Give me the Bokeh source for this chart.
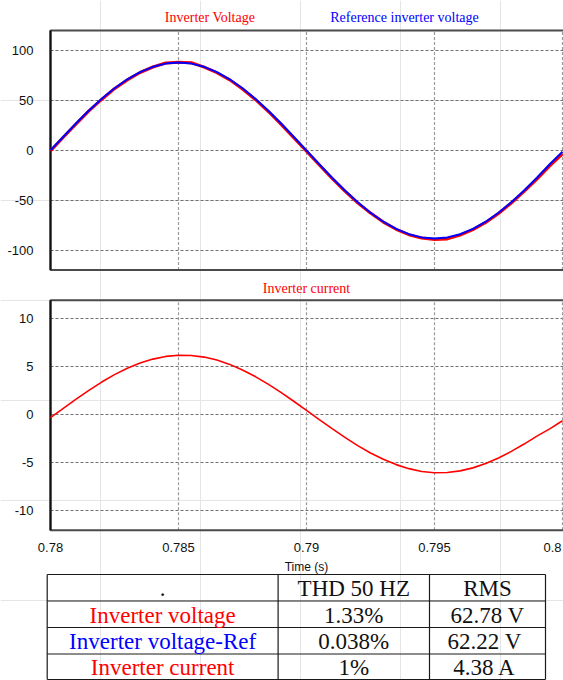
from bokeh.plotting import figure
from bokeh.models import Range1d, ColumnDataSource
from bokeh.embed import file_html
from bokeh.resources import INLINE
from bokeh.core.properties import value

# ---------------- data ----------------
time_s = [0.7800, 0.7805, 0.7810, 0.7815, 0.7820, 0.7825, 0.7830, 0.7835, 0.7840, 0.7845,
          0.7850, 0.7855, 0.7860, 0.7865, 0.7870, 0.7875, 0.7880, 0.7885, 0.7890, 0.7895,
          0.7900, 0.7905, 0.7910, 0.7915, 0.7920, 0.7925, 0.7930, 0.7935, 0.7940, 0.7945,
          0.7950, 0.7955, 0.7960, 0.7965, 0.7970, 0.7975, 0.7980, 0.7985, 0.7990, 0.7995,
          0.8000]

inverter_voltage = [-0.5, 13.2, 26.5, 39.6, 51.0, 61.8, 70.6, 78.0, 83.5, 87.5,
                    88.3, 87.8, 83.3, 77.8, 70.6, 61.5, 51.0, 39.2, 26.4, 12.8,
                    -0.8, -14.5, -28.0, -40.6, -52.3, -62.6, -71.6, -78.8, -84.2, -87.6,
                    -89.0, -88.4, -84.6, -79.2, -72.0, -63.0, -52.6, -41.0, -28.6, -15.4,
                    -3.5]

reference_voltage = [0.3, 13.8, 27.2, 40.0, 51.7, 62.2, 71.2, 78.4, 83.7, 86.9,
                     88.0, 86.9, 83.7, 78.4, 71.2, 62.2, 51.7, 40.0, 27.2, 13.8,
                     0.0, -13.8, -27.2, -40.0, -51.7, -62.2, -71.2, -78.4, -83.7, -86.9,
                     -88.0, -86.9, -83.7, -78.4, -71.2, -62.2, -51.7, -40.0, -27.2, -13.8,
                     -1.2]

inverter_current = [-0.32, 0.64, 1.60, 2.52, 3.38, 4.15, 4.82, 5.36, 5.77, 6.05,
                    6.17, 6.15, 5.98, 5.67, 5.22, 4.64, 3.95, 3.17, 2.30, 1.38,
                    0.42, -0.54, -1.48, -2.39, -3.24, -4.01, -4.67, -5.22, -5.64, -5.93,
                    -6.06, -6.04, -5.87, -5.56, -5.11, -4.53, -3.84, -3.08, -2.25, -1.50,
                    -0.65]

x_ticks = [0.78, 0.785, 0.79, 0.795, 0.8]
x_tick_labels = ["0.78", "0.785", "0.79", "0.795", "0.8"]
v_ticks = [-100, -50, 0, 50, 100]
v_tick_labels = ["-100", "-50", "0", "50", "100"]
i_ticks = [-10, -5, 0, 5, 10]
i_tick_labels = ["-10", "-5", "0", "5", "10"]
x_axis_title = "Time (s)"

plot1_titles = ["Inverter Voltage", "Reference inverter voltage"]
plot2_title = "Inverter current"

table_header = [".", "THD 50 HZ", "RMS"]
table_names = ["Inverter voltage", "Inverter voltage-Ref", "Inverter current"]
table_thd = ["1.33%", "0.038%", "1%"]
table_rms = ["62.78 V", "62.22  V", "4.38  A"]

# ---------------- layout / style constants (canvas pixels) ----------------
RED = "#ff0000"
BLUE = "#0000ff"
INK = "#111111"
W, H = 563, 680
FRAME_LEFT = 50            # canvas x of t = 0.78
PX_PER_S = 128 / 0.005     # horizontal scale
T0 = 0.78
V_TOP_PX, V_TOP = 30, 120.0            # canvas y of v = 120
I_ZERO_PX, I_PX_PER_UNIT = 414, 9.6    # canvas y of i = 0
V_FRAME = (-119.5, 120.0)
I_FRAME = (-12.05, 11.9)
T_FAR = 0.8008             # frame continues past the right edge
GRID_H = "#707070"
GRID_V = "#9a9a9a"
DASH = "3 2"
TICK_FONT = value("Liberation Sans")
SERIF = value("Liberation Serif")

t_start = T0 - FRAME_LEFT / PX_PER_S
t_end = T0 + (W - FRAME_LEFT) / PX_PER_S
v_hi = V_TOP + V_TOP_PX
v_lo = V_TOP - (H - V_TOP_PX)
i_hi = I_ZERO_PX / I_PX_PER_UNIT
i_lo = -(H - I_ZERO_PX) / I_PX_PER_UNIT

p = figure(width=W, height=H, x_range=Range1d(0, W), y_range=Range1d(H, 0),
           x_axis_location=None, y_axis_location=None, min_border=0,
           toolbar_location=None, output_backend="svg")
p.outline_line_color = None
p.background_fill_color = "white"
p.border_fill_color = "white"
p.extra_x_ranges = {"t": Range1d(t_start, t_end)}
p.extra_y_ranges = {"v": Range1d(v_lo, v_hi), "i": Range1d(i_lo, i_hi)}


def panel(yname, frame, yticks, ylabels):
    lo, hi = frame
    # horizontal grid
    p.segment(x0=[T0] * len(yticks), x1=[T_FAR] * len(yticks), y0=yticks, y1=yticks,
              x_range_name="t", y_range_name=yname,
              line_color=GRID_H, line_dash=DASH, line_width=1)
    # vertical grid
    p.segment(x0=x_ticks, x1=x_ticks, y0=[lo] * len(x_ticks), y1=[hi] * len(x_ticks),
              x_range_name="t", y_range_name=yname,
              line_color=GRID_V, line_dash=DASH, line_width=1.2)
    # frame
    p.quad(left=[T0], right=[T_FAR], bottom=[lo], top=[hi], x_range_name="t",
           y_range_name=yname, fill_color=None, line_color="#4a4a4a", line_width=2)
    p.segment(x0=[T0], x1=[T0], y0=[lo], y1=[hi], x_range_name="t", y_range_name=yname,
              line_color="#111111", line_width=2)
    # y tick labels
    p.text(x=[FRAME_LEFT - 17] * len(yticks), y=yticks, text=ylabels, y_range_name=yname,
           text_align="right", text_baseline="middle", text_font=TICK_FONT,
           text_font_size="13px", text_color=INK)


# ----- panel 1: voltages -----
panel("v", V_FRAME, v_ticks, v_tick_labels)
p.line(time_s, inverter_voltage, x_range_name="t", y_range_name="v",
       line_color=RED, line_width=3)
p.line(time_s, reference_voltage, x_range_name="t", y_range_name="v",
       line_color=BLUE, line_width=2)
p.text(x=[209.5, 404], y=[17, 17], text=plot1_titles, text_color=[RED, BLUE],
       text_align="center", text_baseline="middle", text_font=SERIF, text_font_size="14px")

# ----- panel 2: current -----
panel("i", I_FRAME, i_ticks, i_tick_labels)
p.line(time_s, inverter_current, x_range_name="t", y_range_name="i",
       line_color=RED, line_width=1.6)
t_mid = (time_s[0] + time_s[-1]) / 2
p.text(x=[t_mid], y=[288], text=[plot2_title], text_color=RED, x_range_name="t",
       text_align="center", text_baseline="middle", text_font=SERIF, text_font_size="14px")

# x tick labels (the last one is kept inside the window) and axis title
p.text(x=x_ticks[:-1], y=[547] * (len(x_ticks) - 1), text=x_tick_labels[:-1], x_range_name="t",
       text_align="center", text_baseline="middle", text_font=TICK_FONT,
       text_font_size="13px", text_color=INK)
p.text(x=x_ticks[-1:], y=[547], text=x_tick_labels[-1:], x_range_name="t", x_offset=-1,
       text_align="right", text_baseline="middle", text_font=TICK_FONT,
       text_font_size="13px", text_color=INK)
p.text(x=[t_mid], y=[566], text=[x_axis_title], x_range_name="t",
       text_align="center", text_baseline="middle", text_font=TICK_FONT,
       text_font_size="12px", text_color=INK)

# ----- table -----
col_edges = [46.7, 277.6, 429.0, 545.0]
row_edges = [574.0, 600.5, 627.0, 653.5, 679.0]
p.segment(x0=[col_edges[0]] * len(row_edges), x1=[col_edges[-1]] * len(row_edges),
          y0=row_edges, y1=row_edges, line_color="#1a1a1a", line_width=1.2)
p.segment(x0=col_edges, x1=col_edges, y0=[row_edges[0]] * len(col_edges),
          y1=[row_edges[-1]] * len(col_edges), line_color="#1a1a1a", line_width=1.2)

name_colors = [RED, BLUE, RED]
rows = [table_header] + [[n, t, r] for n, t, r in zip(table_names, table_thd, table_rms)]
colors = [[INK] * 3] + [[c, INK, INK] for c in name_colors]
cx, cy, ct, cc = [], [], [], []
for ri, row in enumerate(rows):
    for ci, txt in enumerate(row):
        cx.append((col_edges[ci] + col_edges[ci + 1]) / 2)
        cy.append((row_edges[ri] + row_edges[ri + 1]) / 2 + 1)
        ct.append(txt)
        cc.append(colors[ri][ci])
src = ColumnDataSource(dict(x=cx, y=cy, text=ct, color=cc))
p.text(x="x", y="y", text="text", text_color="color", source=src,
       text_font=SERIF, text_font_size="23px", text_align="center",
       text_baseline="middle")

open("out.html", "w").write(file_html(p, INLINE))
